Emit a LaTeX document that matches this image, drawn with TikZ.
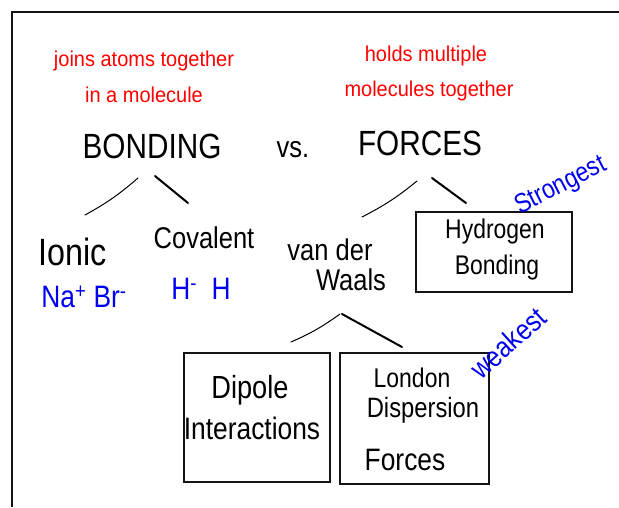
\documentclass[tikz,border=0pt]{standalone}
\usepackage{fontspec}
\setmainfont{Liberation Sans}
\newfontfamily\handfont[FakeStretch=0.85]{Liberation Sans}
\newfontfamily\redfont[FakeStretch=0.93]{Liberation Sans}
\definecolor{redtxt}{RGB}{255,0,0}
\definecolor{bluetxt}{RGB}{0,0,240}
\definecolor{inkc}{RGB}{20,20,20}
\tikzset{
  note/.style={text=redtxt, font=\redfont\fontsize{21.5}{24}\selectfont, inner sep=0pt},
  hw/.style={text=black, font=\handfont\fontsize{30}{36}\selectfont, inner sep=0pt},
  hwbig/.style={text=black, font=\handfont\fontsize{35}{40}\selectfont, inner sep=0pt},
  bluew/.style={text=bluetxt, font=\handfont\fontsize{31}{34}\selectfont, inner sep=0pt},
  boxc/.style={draw=inkc, line width=2pt, inner sep=0pt},
  strokeA/.style={draw=black, line width=1pt, line cap=round},
  strokeB/.style={draw=black, line width=2pt, line cap=round}
}
\begin{document}
\begin{tikzpicture}[x=1pt,y=-1pt]
\useasboundingbox (0,0) rectangle (619,507);
\fill[white] (0,0) rectangle (619,507);
% frame
\coordinate (frameA) at (619,12);
\coordinate (frameB) at (12,12);
\coordinate (frameC) at (12,507);
\draw[draw=inkc, line width=2pt] (frameA) -- (frameB) -- (frameC);

% red notes
\node[note] (n1) at (144,61) {joins atoms together};
\node[note] (n2) at (144,95) {in a molecule};
\node[note] (n3) at (426,56) {holds multiple};
\node[note] (n4) at (429,91) {molecules together};

% headings
\node[hwbig] (bonding) at (152,146) {BONDING};
\node[hw] (vs) at (293,150) {vs.};
\node[hwbig] (forces) at (420,143) {FORCES};

% branch strokes
\coordinate (bl1) at (138,178); \coordinate (bl2) at (85,215);
\coordinate (br1) at (155,176); \coordinate (br2) at (188,203);
\coordinate (fl1) at (417,181); \coordinate (fl2) at (362,217);
\coordinate (fr1) at (432,178); \coordinate (fr2) at (466,203);
\coordinate (wl1) at (340,314); \coordinate (wl2) at (291,342);
\coordinate (wr1) at (342,314); \coordinate (wr2) at (402,347);
\draw[strokeA] (bl1) to[bend left=6] (bl2);
\draw[strokeB] (br1) -- (br2);
\draw[strokeA] (fl1) to[bend left=6] (fl2);
\draw[strokeB] (fr1) -- (fr2);
\draw[strokeA] (wl1) to[bend left=6] (wl2);
\draw[strokeB] (wr1) -- (wr2);

% second level
\node[hw, font=\handfont\fontsize{38}{40}\selectfont] (ionic) at (73,252) {Ionic};
\node[hw] (covalent) at (204,238) {Covalent};
\node[bluew] (nabr) at (84,297) {Na\textsuperscript{+} Br\textsuperscript{-}};
\node[bluew] (hh) at (201,289) {H\textsuperscript{-}\ \ H};
\node[hw] (vander) at (330,250) {van der};
\node[hw] (waals) at (351,280) {Waals};

% hydrogen bonding box
\node[boxc, minimum width=156pt, minimum height=80pt] (hbox) at (494,252) {};
\node[hw, font=\handfont\fontsize{27}{32}\selectfont] (hyd) at (495,232) {Hydrogen};
\node[hw, font=\handfont\fontsize{27}{32}\selectfont] (hbond) at (497,268) {Bonding};
\node[bluew, font=\handfont\fontsize{27}{32}\selectfont, rotate=27] (strong) at (561,186) {Strongest};

% lower boxes
\node[boxc, minimum width=146pt, minimum height=129pt] (dbox) at (257,417.5) {};
\node[hw, font=\handfont\fontsize{32}{36}\selectfont] (dip) at (250,390) {Dipole};
\node[hw, font=\handfont\fontsize{31}{36}\selectfont] (inter) at (252,428) {Interactions};
\node[boxc, minimum width=149pt, minimum height=131pt] (lbox) at (414.5,418.5) {};
\node[hw, font=\handfont\fontsize{27}{32}\selectfont] (lon) at (412,378) {London};
\node[hw, font=\handfont\fontsize{28}{32}\selectfont] (disp) at (423,410) {Dispersion};
\node[hw, font=\handfont\fontsize{31}{36}\selectfont] (forc) at (405,460) {Forces};
\node[bluew, font=\handfont\fontsize{29}{34}\selectfont, rotate=42] (weak) at (508,343) {weakest};
\end{tikzpicture}
\end{document}
